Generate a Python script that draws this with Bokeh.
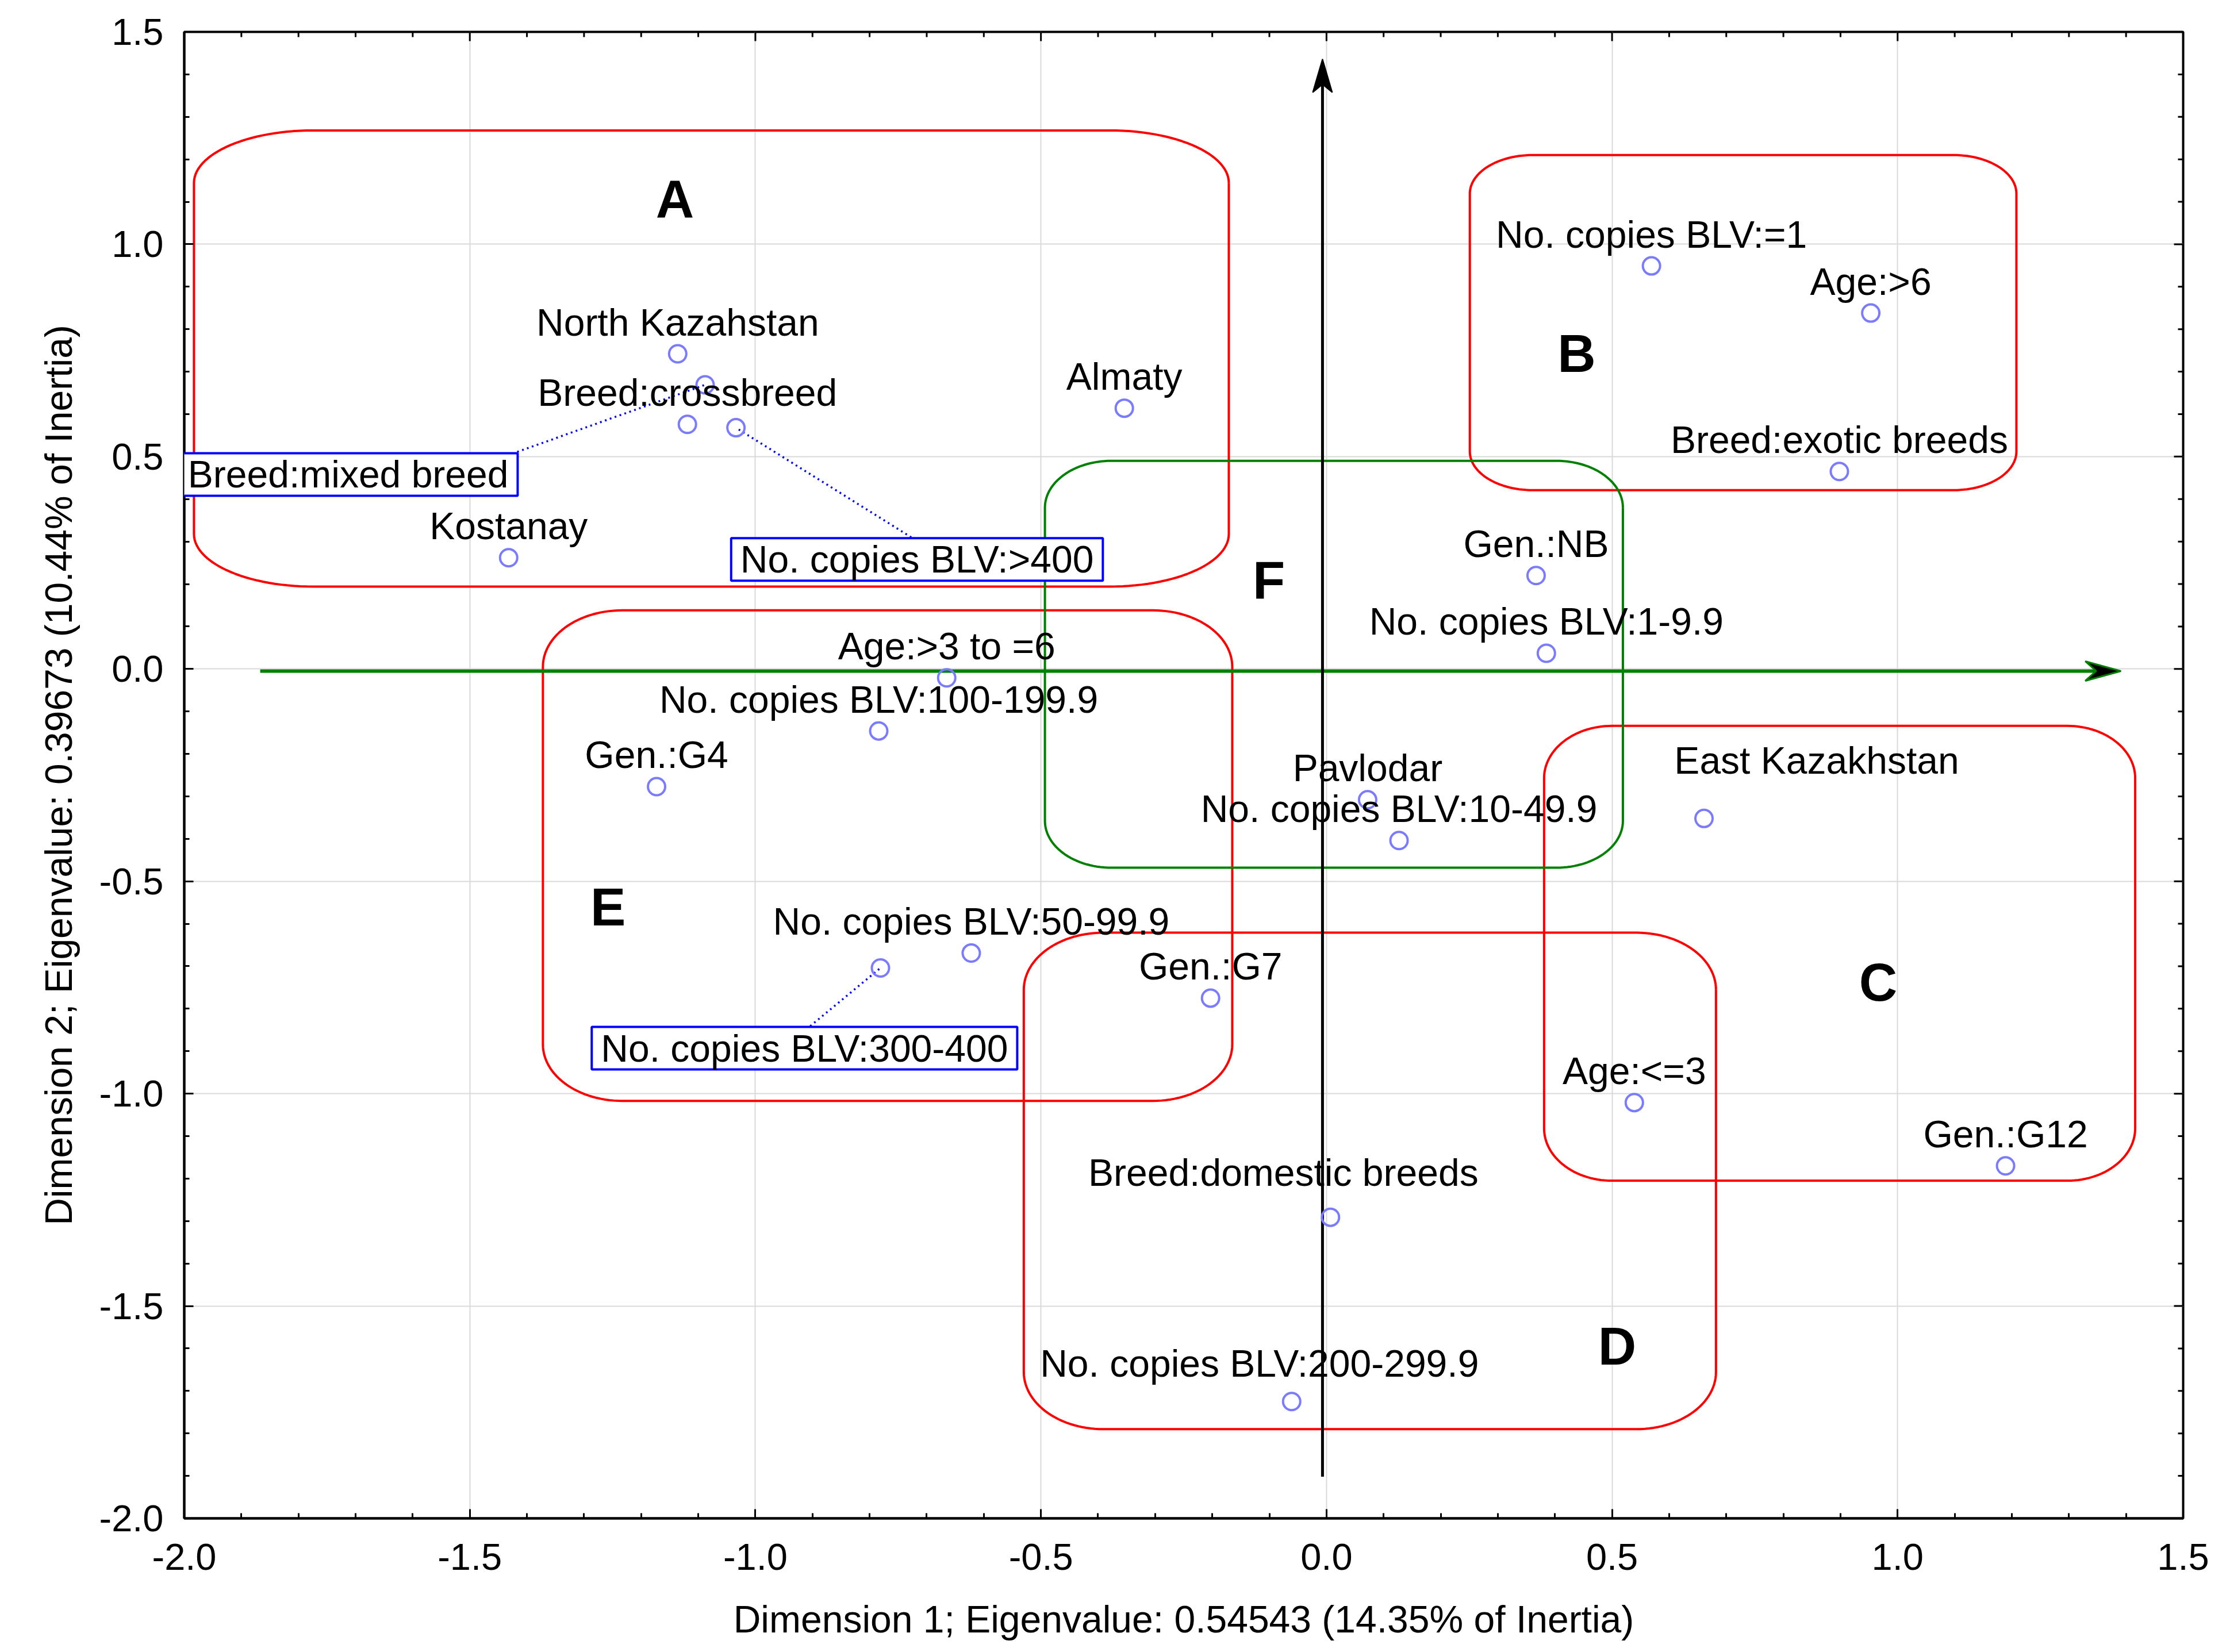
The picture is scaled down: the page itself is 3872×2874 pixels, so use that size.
import numpy as np
from bokeh.plotting import figure
from bokeh.models import Range1d, Label, FixedTicker, PrintfTickFormatter, ColumnDataSource
from bokeh.embed import file_html
from bokeh.resources import INLINE
from bokeh.core.properties import value

# ------------------------------------------------------------------ data
point_names = [
    "North Kazahstan", "Breed:crossbreed", "Breed:mixed breed", "No. copies BLV:>400",
    "Almaty", "Kostanay", "Age:>3 to =6", "No. copies BLV:100-199.9", "Gen.:G4",
    "No. copies BLV:50-99.9", "No. copies BLV:300-400", "Gen.:G7", "Pavlodar",
    "No. copies BLV:10-49.9", "Gen.:NB", "No. copies BLV:1-9.9", "No. copies BLV:=1",
    "Age:>6", "Breed:exotic breeds", "East Kazakhstan", "Age:<=3", "Gen.:G12",
    "Breed:domestic breeds", "No. copies BLV:200-299.9",
]
dim1 = [-1.136, -1.119, -1.088, -1.034, -0.354, -1.432, -0.665, -0.784, -1.173,
        -0.622, -0.781, -0.203, 0.072, 0.127, 0.367, 0.385, 0.569, 0.953, 0.898,
        0.661, 0.539, 1.189, 0.007, -0.061]
dim2 = [0.742, 0.576, 0.669, 0.568, 0.614, 0.262, -0.021, -0.146, -0.277,
        -0.669, -0.704, -0.775, -0.308, -0.404, 0.220, 0.037, 0.949, 0.838, 0.465,
        -0.352, -1.021, -1.170, -1.291, -1.725]

# labels that are moved away from their points (screen px shift of the label)
label_dx = {"East Kazakhstan": 196, "Breed:domestic breeds": -82, "No. copies BLV:200-299.9": -56}
label_dy = {"East Kazakhstan": -101, "Breed:domestic breeds": -78, "No. copies BLV:200-299.9": -66}

# labels drawn in a blue box with a dotted leader line
boxed_names = ["Breed:mixed breed", "No. copies BLV:>400", "No. copies BLV:300-400"]
boxed_x = [-1.713, -0.717, -0.914]
boxed_y = [0.458, 0.258, -0.893]
leader_x = [-1.417, -0.727, -0.904]
leader_y = [0.511, 0.310, -0.841]

# grouping regions
region_names = ["A", "B", "C", "D", "E", "F"]
region_x0 = [-1.983, 0.251, 0.381, -0.530, -1.372, -0.493]
region_x1 = [-0.171, 1.208, 1.416, 0.682, -0.165, 0.519]
region_y0 = [0.194, 0.421, -1.205, -1.790, -1.017, -0.468]
region_y1 = [1.268, 1.210, -0.134, -0.621, 0.138, 0.490]
region_color = ["#ff0000", "#ff0000", "#ff0000", "#ff0000", "#ff0000", "#008000"]
region_label_x = [-1.141, 0.438, 0.966, 0.509, -1.258, -0.101]
region_label_y = [1.107, 0.743, -0.738, -1.594, -0.560, 0.209]

# axes arrows
h_arrow_x = [-1.867, 1.391]
h_arrow_y = -0.005
v_arrow_x = -0.007
v_arrow_y = [-1.902, 1.436]

major_ticks = [-2.0, -1.5, -1.0, -0.5, 0.0, 0.5, 1.0, 1.5]
minor_ticks = [round(-2.0 + 0.1 * i, 1) for i in range(36)]

x_title = "Dimension 1; Eigenvalue: 0.54543 (14.35% of Inertia)"
y_title = "Dimension 2; Eigenvalue: 0.39673 (10.44% of Inertia)"

# ------------------------------------------------------------------ figure
FONT = "Liberation Sans"
W, H = 3856, 2858
ML, MR, MT, MB = 320, 59, 55, 217
XR = (-2.0, 1.5)
YR = (-2.0, 1.5)
sx = (W - ML - MR) / (XR[1] - XR[0])
sy = (H - MT - MB) / (YR[1] - YR[0])

p = figure(width=W, height=H, x_range=Range1d(*XR), y_range=Range1d(*YR),
           output_backend="svg", toolbar_location=None,
           min_border_left=ML, min_border_right=MR, min_border_top=MT, min_border_bottom=MB,
           background_fill_color="white", border_fill_color="white")
p.outline_line_color = "black"
p.outline_line_width = 4

MAJ_IN, MIN_IN = 16, 9

def style_axis(ax):
    ax.ticker = FixedTicker(ticks=major_ticks, minor_ticks=minor_ticks)
    ax.formatter = PrintfTickFormatter(format="%.1f")
    ax.axis_line_color = "black"
    ax.axis_line_width = 4
    ax.major_tick_in = MAJ_IN
    ax.major_tick_out = 0
    ax.minor_tick_in = MIN_IN
    ax.minor_tick_out = 0
    ax.major_tick_line_width = 3
    ax.minor_tick_line_width = 3
    ax.major_tick_line_color = "black"
    ax.minor_tick_line_color = "black"
    ax.major_label_text_font = FONT
    ax.major_label_text_font_size = "65px"
    ax.major_label_text_color = "black"
    ax.axis_label_text_font = FONT
    ax.axis_label_text_font_size = "66px"
    ax.axis_label_text_font_style = "normal"
    ax.axis_label_text_color = "black"

style_axis(p.xaxis[0])
style_axis(p.yaxis[0])
p.xaxis[0].axis_label = x_title
p.yaxis[0].axis_label = y_title
p.xaxis[0].major_label_standoff = 44
p.yaxis[0].major_label_standoff = 36
p.xaxis[0].axis_label_standoff = 46
p.yaxis[0].axis_label_standoff = 30

p.xgrid.ticker = FixedTicker(ticks=major_ticks)
p.ygrid.ticker = FixedTicker(ticks=major_ticks)
p.grid.grid_line_color = "#d9d9d9"
p.grid.grid_line_width = 2

# mirrored inward ticks on the top and right frame edges
t_major = [t for t in major_ticks]
t_minor = [t for t in minor_ticks if t not in major_ticks]
for ticks, ln in ((t_major, MAJ_IN), (t_minor, MIN_IN)):
    p.segment(x0=ticks, x1=ticks, y0=[YR[1]] * len(ticks), y1=[YR[1] - ln / sy] * len(ticks),
              line_color="black", line_width=3)
    p.segment(x0=[XR[1]] * len(ticks), x1=[XR[1] - ln / sx] * len(ticks), y0=ticks, y1=ticks,
              line_color="black", line_width=3)

# ------------------------------------------------------------------ regions
def rounded_path(x0, x1, y0, y1, f=0.115, n=30):
    rx = (x1 - x0) * f
    ry = (y1 - y0) * f
    xs, ys = [], []
    corners = [(x1 - rx, y1 - ry, 0.0), (x0 + rx, y1 - ry, 90.0),
               (x0 + rx, y0 + ry, 180.0), (x1 - rx, y0 + ry, 270.0)]
    for cx, cy, a0 in corners:
        t = np.radians(np.linspace(a0, a0 + 90.0, n))
        xs.extend(cx + rx * np.cos(t))
        ys.extend(cy + ry * np.sin(t))
    xs.append(xs[0])
    ys.append(ys[0])
    return xs, ys

for i in range(len(region_names)):
    xs, ys = rounded_path(region_x0[i], region_x1[i], region_y0[i], region_y1[i])
    p.line(xs, ys, line_color=region_color[i], line_width=4)

# ------------------------------------------------------------------ arrows
p.line([h_arrow_x[0], h_arrow_x[1] - 30 / sx], [h_arrow_y, h_arrow_y], line_color="#008000", line_width=6)
hl, hw, hn = 62, 17, 43
tip = h_arrow_x[1]
p.patch([tip, tip - hl / sx, tip - hn / sx, tip - hl / sx],
        [h_arrow_y, h_arrow_y + hw / sy, h_arrow_y, h_arrow_y - hw / sy],
        fill_color="black", line_color="#008000", line_width=3)
p.line([v_arrow_x, v_arrow_x], [v_arrow_y[0], v_arrow_y[1] - 30 / sy], line_color="black", line_width=5)
vl, vw, vn = 58, 17, 44
tip = v_arrow_y[1]
p.patch([v_arrow_x, v_arrow_x + vw / sx, v_arrow_x, v_arrow_x - vw / sx],
        [tip, tip - vl / sy, tip - vn / sy, tip - vl / sy],
        fill_color="black", line_color="black", line_width=2)

# ------------------------------------------------------------------ leader lines
bidx = [point_names.index(n) for n in boxed_names]
p.segment(x0=leader_x, y0=leader_y, x1=[dim1[i] for i in bidx], y1=[dim2[i] for i in bidx],
          line_color="#0000ff", line_width=3.5, line_dash="3 6")

# ------------------------------------------------------------------ points
p.scatter(dim1, dim2, marker="circle", size=30, fill_color=None,
          line_color="#7b7bff", line_width=4)

# ------------------------------------------------------------------ point labels
plain = [i for i, n in enumerate(point_names) if n not in boxed_names]
src = ColumnDataSource(dict(
    x=[dim1[i] for i in plain],
    y=[dim2[i] for i in plain],
    text=[point_names[i] for i in plain],
    dx=[label_dx.get(point_names[i], 0) for i in plain],
    dy=[label_dy.get(point_names[i], -55) for i in plain],
))
p.text(x="x", y="y", text="text", x_offset="dx", y_offset="dy", source=src,
       text_font=value(FONT), text_font_size="66px", text_color="black",
       text_align="center", text_baseline="middle")

p.text(x=region_label_x, y=region_label_y, text=region_names,
       text_font=value(FONT), text_font_size="92px", text_font_style="bold",
       text_color="black", text_align="center", text_baseline="middle")

for n, bx, by in zip(boxed_names, boxed_x, boxed_y):
    p.add_layout(Label(x=bx, y=by, text=n, text_font=FONT, text_font_size="66px",
                       text_color="black", text_align="center", text_baseline="middle",
                       border_line_color="#0000ff", border_line_width=4,
                       background_fill_color="white", padding=dict(x=16, y=0)))

open("out.html", "w").write(file_html(p, INLINE))
